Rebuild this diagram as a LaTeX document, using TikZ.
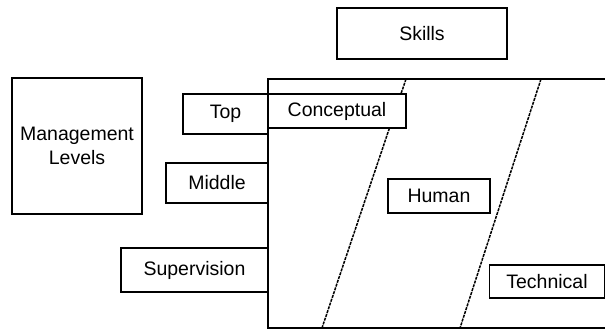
\documentclass[tikz,border=0pt]{standalone}
\usepackage{fontspec}
\setmainfont{Liberation Sans}
\usetikzlibrary{positioning}

\tikzset{
  box/.style={draw, line width=1.4pt, inner sep=0pt, fill=white,
    font=\fontsize{19.5}{24}\selectfont},
  slant/.style={line width=1.5pt, dash pattern=on 3pt off 1pt}
}

\begin{document}
\begin{tikzpicture}[x=1pt,y=-1pt]
		\useasboundingbox (0,0) rectangle (605,329);

		% skill area and its dividing lines
		\draw[line width=1.4pt] (606,79) -- (268,79) -- (268,328) -- (606,328);
		\coordinate (s1top) at (406,79);
		\coordinate (s1bot) at (322,328);
		\coordinate (s2top) at (541,79);
		\coordinate (s2bot) at (460,328);
		\draw[slant] (s1top) -- (s1bot);
		\draw[slant] (s2top) -- (s2bot);

		\draw (422,33.5) node[box, minimum width=170pt, minimum height=51pt] (skills) {Skills}
		(77,146) node[box, minimum width=130pt, minimum height=136pt, align=center] (levels) {Management\\Levels}
		(225.5,114) node[box, minimum width=85pt, minimum height=40pt] (top) {Top}
		(217,183) node[box, minimum width=102pt, minimum height=40pt] (middle) {Middle}
		(194.5,270) node[box, minimum width=147pt, minimum height=44pt] (supervision) {Supervision}
		(337,111) node[box, minimum width=138pt, minimum height=34pt] (conceptual) {Conceptual}
		(439,196) node[box, minimum width=102pt, minimum height=34pt] (human) {Human}
		(547,281.5) node[box, minimum width=115pt, minimum height=33pt] (technical) {Technical};
	\end{tikzpicture}
\end{document}
